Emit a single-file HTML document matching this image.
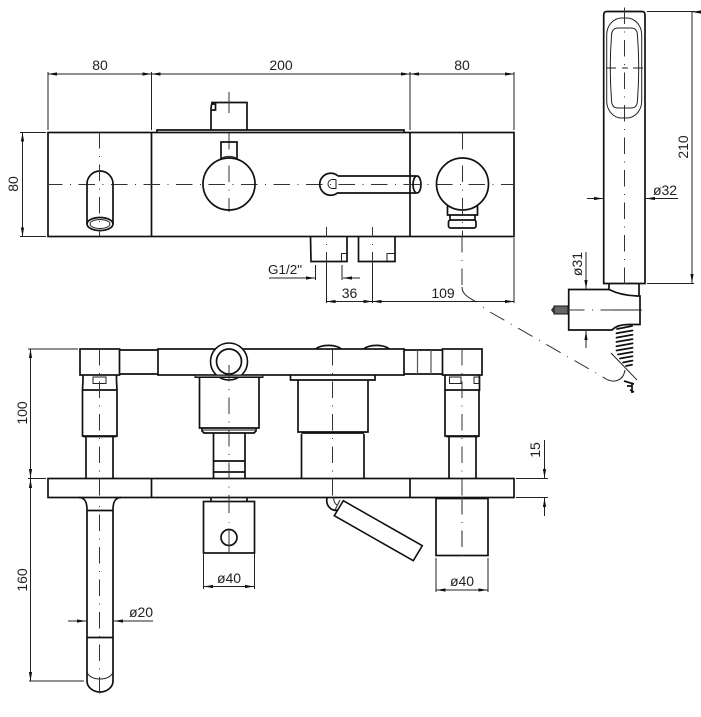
<!DOCTYPE html>
<html>
<head>
<meta charset="utf-8">
<style>
html,body{margin:0;padding:0;background:#fff;width:701px;height:717px;overflow:hidden}
svg{display:block}
text{font-family:"Liberation Sans",sans-serif;font-size:14px;fill:#222;text-anchor:middle}
.o{fill:none;stroke:#111;stroke-width:1.7}
.t{fill:none;stroke:#222;stroke-width:1}
.g{fill:none;stroke:#555;stroke-width:1.2}
.c{fill:none;stroke:#333;stroke-width:1;stroke-dasharray:16.5 7.5 1 7.5}
.d{fill:none;stroke:#222;stroke-width:1}
.a{marker-end:url(#m);marker-start:url(#m)}
.e{marker-end:url(#m)}
</style>
</head>
<body>
<svg width="701" height="717" viewBox="0 0 701 717" xmlns="http://www.w3.org/2000/svg">
<defs>
<marker id="m" markerUnits="userSpaceOnUse" markerWidth="10" markerHeight="6" refX="9" refY="3" orient="auto-start-reverse">
<path d="M0 1.4L9 3L0 4.6Z" fill="#111"/>
</marker>
</defs>

<!-- TOP VIEW -->
<rect class="o" x="48" y="132.5" width="466" height="104"/>
<path class="o" d="M151.5 132.5V236.5M410 132.5V236.5"/>
<path class="o" d="M157 132V130H404V132"/>
<path class="c" d="M48 184.5H514" stroke-dashoffset="2"/>

<!-- dims top -->
<path class="d" d="M48 72V130M151.5 72V130M410 72V130M514 72V130"/>
<path class="d a" d="M48 74H151.5"/>
<path class="d a" d="M151.5 74H410"/>
<path class="d a" d="M410 74H514"/>
<text x="100" y="70">80</text>
<text x="281" y="70">200</text>
<text x="462" y="70">80</text>
<path class="d" d="M20 132.5H46M20 236.5H46"/>
<path class="d a" d="M22.5 132.5V236.5"/>
<text transform="translate(18,184) rotate(-90)">80</text>

<!-- spout top -->
<path class="o" d="M87 224V184A13 13 0 0 1 113 184V224"/>
<ellipse class="o" cx="100" cy="224" rx="13" ry="6.5" stroke-width="2"/>
<ellipse class="t" cx="100" cy="224" rx="10" ry="4.5"/>
<path class="c" d="M99.5 132V236"/>

<!-- square knob -->
<path class="o" d="M211 130V108L212 102.500H247V108L247 130"/>
<path class="o" d="M212 104H215.500V110H211.500"/>
<path class="c" d="M229 92V113" style="stroke-dasharray:none"/>
<path class="c" d="M229 133V212"/>

<!-- sphere 1 -->
<circle class="o" cx="229" cy="184" r="26"/>
<path class="o" d="M221 160V142H237V160"/>
<path class="t" d="M222 158A11 7 0 0 1 236 158"/>

<!-- lever top -->
<path class="o" d="M338 176A11 11 0 1 0 338 192.500"/>
<path class="t" d="M336 179.500H332.500A4.500 4.500 0 0 0 332.500 188.500H336V179.500"/>
<path class="o" d="M338 176H416M338 193H416"/>
<ellipse class="o" cx="417" cy="184.500" rx="4" ry="8.500"/>

<!-- sphere 2 -->
<circle class="o" cx="462.500" cy="184" r="26"/>
<path class="o" d="M447.500 205V215H477.500V205"/>
<path class="o" d="M450 215V220M475 215V220"/>
<rect class="o" x="448.500" y="220" width="27.500" height="8" rx="2" stroke-width="2"/>
<path class="c" d="M462.500 133V236"/>

<!-- connectors -->
<path class="o" d="M310.500 236.500L311 261.500H347L347 236.500"/>
<path class="o" d="M358.500 236.500V261.500H395V236.500"/>
<path class="t" d="M341.500 261V253.500H346.500M387 261V253.500H394.500"/>
<path class="c" d="M326.500 227V262" style="stroke-dasharray:10 7 1 7"/>
<path class="c" d="M372.500 227V262" style="stroke-dasharray:10 7 1 7"/>

<!-- G1/2 and 36, 109 dims -->
<text x="285" y="274" textLength="34" lengthAdjust="spacingAndGlyphs" style="font-size:13px">G1/2"</text>
<path class="d e" d="M269 278H315"/>
<path class="d" d="M315.500 265V280M342 265V280"/>
<path class="d e" d="M360 278H343"/>
<path class="d" d="M326.500 262V303M372.500 262V303M514 238V303"/>
<path class="d a" d="M326.500 301.500H372.500"/>
<path class="d a" d="M372.500 301.500H514"/>
<text x="349.500" y="298">36</text>
<text x="443" y="298">109</text>
<path class="c" d="M462 236V287"/>
<path class="t" d="M462 287C462 295 470 298 476 302"/>
<path class="t" d="M483 307L483.800 307.500"/>
<path class="c" d="M490 312L603 377"/>
<path class="t" d="M603 377C612 384 623 382 625 370"/>

<!-- HAND SHOWER -->
<path class="o" d="M603.700 283.500V15Q603.700 11.500 607 11.500H642Q645 11.500 645 15V283.500H603.700Z"/>
<rect class="t" x="606.700" y="18" width="35" height="100" rx="15" ry="17"/>
<path class="t" d="M618 28H631Q637.500 28 637.500 36C639 55 639 80 637.500 100Q637.500 108 631 108H618Q611.500 108 611.500 100C610 80 610 55 611.500 36Q611.500 28 618 28Z"/>
<path class="c" d="M624.500 7.500V288"/>
<path class="d" d="M606 68H616M622 68H628M633 68H643"/>
<path class="d" d="M647 11.500H695"/>
<path class="d" d="M647 283.500H694" stroke="#777"/>
<path class="d a" d="M692 12H692V283"/>
<text transform="translate(688,147) rotate(-90)">210</text>
<text x="665" y="195">ø32</text>
<path class="d" d="M645 198.500H678"/>
<path class="d e" d="M678 198.500H646"/>
<path class="d e" d="M587 198.500H603"/>

<!-- bracket -->
<path class="o" d="M609 283.500V289.500H568.700V330H612C616 326 621 324.500 630 324.500H640V296C630 296 618 294 609 289.500"/>
<path class="o" d="M639 283.500V296"/>
<rect x="554" y="306" width="14" height="8" fill="#666" stroke="#111" stroke-width="1"/>
<path d="M554 306L551 310L554 314Z" fill="#333"/>
<path class="c" d="M568 310H642"/>
<path class="d" d="M613 310H640"/>
<path class="d e" d="M586 252V289"/>
<path class="d e" d="M586 348V331"/>
<text transform="translate(582,264) rotate(-90)">ø31</text>

<!-- hose -->
<path d="M617 329L632 326M616.500 333.300L632.500 330.500M616.500 337.600L632.500 334.800M616.500 341.900L632.500 339.100M616.500 346.200L632.500 343.400M616.500 350.500L632.500 347.700M618 354.500L632.500 352M620 358.500L632.500 356.300M623 362.500L632.500 360.600M626 366L632 364.800" stroke="#111" stroke-width="1.800" stroke-linecap="round" fill="none"/>
<path class="t" d="M611 353L637 380"/>
<path class="o" d="M624 381L634 384M627 386L632 386M632 384L632 393M630 390L634 392" stroke-width="1.400"/>

<!-- FRONT VIEW -->
<rect class="o" x="48" y="478.500" width="466" height="19"/>
<path class="o" d="M151.500 478.500V497.500M410 478.500V497.500"/>

<!-- left column -->
<rect class="o" x="80" y="349" width="39.500" height="26"/>
<path class="o" d="M119.500 350H158M119.500 374H158"/>
<path class="o" d="M83 375V380L82.500 390V436H117V390L116.500 380V375"/>
<path class="o" d="M82.500 390H117"/>
<rect class="t" x="93" y="377" width="13" height="6.500"/>
<path class="o" d="M83 436.500H116.500" stroke-width="2"/>
<path class="o" d="M86 437V478.500M113 437V478.500"/>
<path class="c" d="M99.500 349V498"/>

<!-- bar -->
<rect class="o" x="158" y="349" width="246" height="26"/>
<path class="o" d="M316 349A13 5 0 0 1 341 349M364 349A13 5 0 0 1 389 349"/>
<circle cx="229" cy="361.500" r="18.500" fill="#fff" stroke="#111" stroke-width="1.600"/>
<circle class="o" cx="229" cy="361.500" r="12.500"/>
<rect x="195" y="375" width="68" height="2.500" fill="#777" stroke="#111" stroke-width="1"/>
<path class="o" d="M199.500 378V428H259V378"/>
<path class="o" d="M202 428V431L204 433H254L256 431V428" />
<path d="M203 430H255" stroke="#888" stroke-width="2"/>
<path class="o" d="M213.500 433V478.500M245 433V478.500"/>
<path class="o" d="M213.500 461H245" stroke-width="2.500"/>
<path class="o" d="M213.500 472H245" stroke-width="3.500"/>
<path class="c" d="M229 362V500" stroke-dashoffset="29.500"/>

<!-- right body -->
<path class="o" d="M290.500 375V380H375V375"/>
<path class="o" d="M298 380V432H368V380"/>
<path class="o" d="M301.500 433H364" stroke="#666"/>
<path class="o" d="M301.500 434V478.500M364 434V478.500"/>
<path class="c" d="M332.500 349V498"/>

<!-- right column -->
<path class="o" d="M404 350H442M404 374H442"/>
<path class="g" d="M417.500 350V374M431 350V374" stroke-width="1.400"/>
<rect class="o" x="442.500" y="349" width="39.500" height="26"/>
<path class="o" d="M445 375V390H479.500V375"/>
<path class="o" d="M445 390V436H479V390"/>
<rect class="t" x="449.500" y="377" width="11.500" height="6.500"/>
<rect class="t" x="474" y="377" width="5" height="6.500"/>
<path class="o" d="M446 436.500H478.500" stroke-width="2"/>
<path class="o" d="M449 437V478.500M476 437V478.500"/>
<path class="c" d="M462 349V498"/>

<!-- dims front -->
<path class="d" d="M28 349H78M28 478.500H46M29 681H84"/>
<path class="d a" d="M30.500 349V478"/>
<path class="d a" d="M30.500 479V681"/>
<text transform="translate(27,413) rotate(-90)">100</text>
<text transform="translate(27,580) rotate(-90)">160</text>
<path class="d" d="M516 478.500H548M516 497.500H548"/>
<path class="d e" d="M544.500 440V478"/>
<path class="d e" d="M544.500 516V498"/>
<text transform="translate(540,450) rotate(-90)">15</text>

<!-- spout front -->
<path class="o" d="M79 497.500C85 497.500 87 502 87 510V681A13 11 0 0 0 113 681V510C113 502 115 497.500 121 497.500"/>
<path class="o" d="M87 510.500H113M87 637.500H113"/>
<path class="t" d="M87 671A13 8 0 0 0 113 671"/>
<path class="c" d="M99.500 498V694" stroke-dashoffset="16"/>
<path class="d e" d="M68 621H86"/>
<path class="d e" d="M153 621H114"/>
<text x="141" y="617">ø20</text>

<!-- box under valve -->
<rect class="o" x="203.500" y="501.500" width="51" height="51.500"/>
<path class="o" d="M211 497.500V501.500M247 497.500V501.500"/>
<circle class="o" cx="229" cy="537.500" r="8"/>
<path class="c" d="M229 498V513M229 522V522.800M229 530V553" style="stroke-dasharray:none"/>
<path class="d" d="M203.500 554V589M254.500 554V589"/>
<path class="d a" d="M204 586.500H254"/>
<text x="229" y="583">ø40</text>

<!-- lever front -->
<path class="o" d="M327 498A9 10 0 0 0 338 510" stroke-width="1.400"/>
<path class="t" d="M334 498A5 6 0 0 0 337 505M340 500L335 510"/>
<path d="M343.300 500.700L422.300 545.700L413.300 560.700L334.300 515.700Z" fill="#fff" stroke="#111" stroke-width="1.600"/>

<!-- right box -->
<rect class="o" x="436" y="498.500" width="52" height="57"/>
<path class="c" d="M462 498V556" style="stroke:#555;stroke-width:1.300"/>
<path class="d" d="M436 558V592M488 558V592" stroke="#666"/>
<path class="d a" d="M436.500 590H487.500"/>
<text x="462" y="586">ø40</text>
</svg>
</body>
</html>
